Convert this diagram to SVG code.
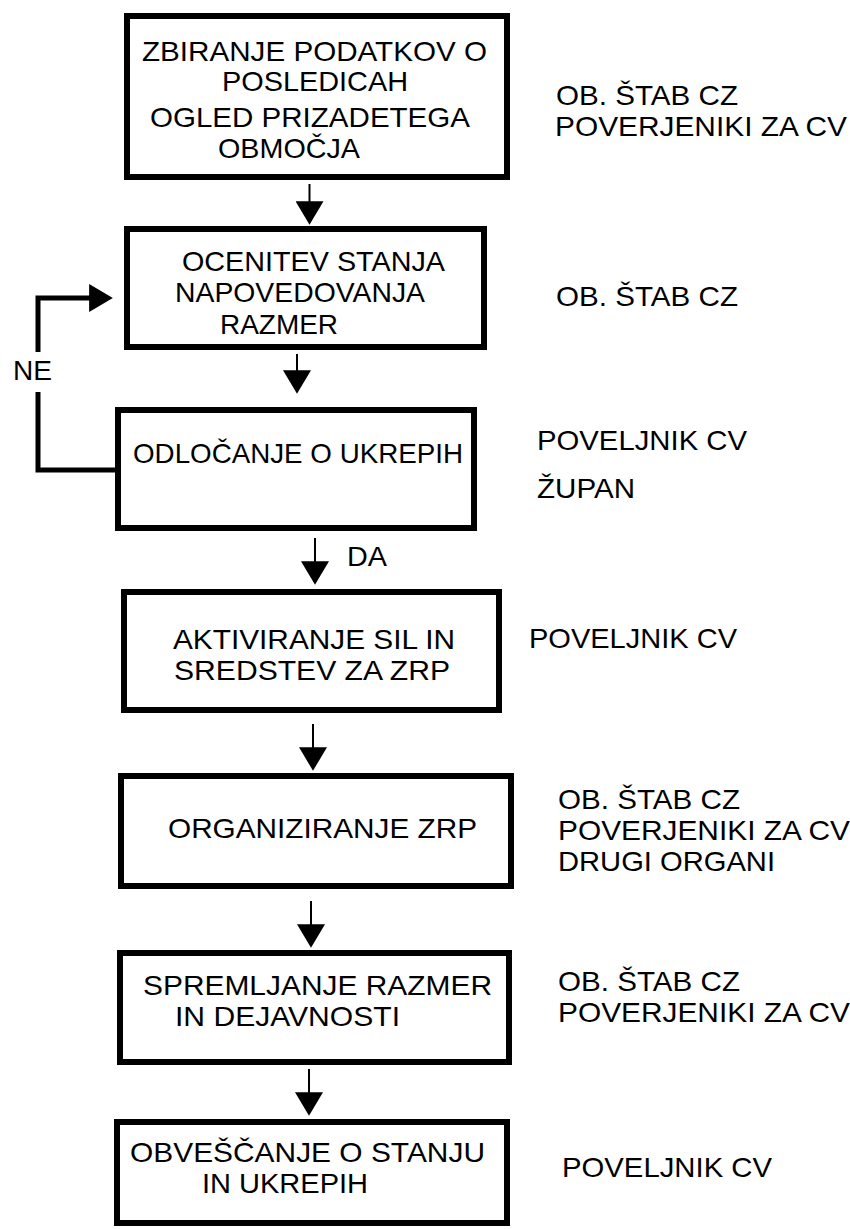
<svg xmlns="http://www.w3.org/2000/svg" width="850" height="1229" viewBox="0 0 850 1229">
<style>
.box{fill:#fff;stroke:#000;stroke-width:6}
.t{font-family:"Liberation Sans",Arial,sans-serif;font-size:28px;fill:#000}
.ln{fill:none;stroke:#000;stroke-width:2}
.lp{fill:none;stroke:#000;stroke-width:5}
</style>
<defs>
<marker id="ah" markerUnits="userSpaceOnUse" markerWidth="24" markerHeight="28" viewBox="0 0 22 26" refX="11" refY="13" orient="auto">
<path d="M0,0 L22,13 L0,26 z" fill="#000"/>
</marker>
</defs>
<rect width="850" height="1229" fill="#fff"/>
<g id="connectors">
<path class="ln" d="M309.5 184 V213" marker-end="url(#ah)"/>
<path class="ln" d="M297 354 V382" marker-end="url(#ah)"/>
<path class="lp" d="M118 470 H38 V392"/>
<path class="lp" d="M38 352 V298 H101" marker-end="url(#ah)"/>
<text class="t" x="13" y="380" textLength="39" lengthAdjust="spacingAndGlyphs">NE</text>
<path class="ln" d="M315 538 V573" marker-end="url(#ah)"/>
<text class="t" x="347" y="566" textLength="40" lengthAdjust="spacingAndGlyphs">DA</text>
<path class="ln" d="M313 724 V759" marker-end="url(#ah)"/>
<path class="ln" d="M311 901 V936" marker-end="url(#ah)"/>
<path class="ln" d="M309 1069 V1104" marker-end="url(#ah)"/>
</g>
<g id="n1">
<rect class="box" x="127" y="16" width="380" height="161"/>
<text class="t" x="142" y="61" textLength="345" lengthAdjust="spacingAndGlyphs">ZBIRANJE PODATKOV O</text>
<text class="t" x="222" y="91" textLength="186" lengthAdjust="spacingAndGlyphs">POSLEDICAH</text>
<text class="t" x="150" y="127" textLength="320" lengthAdjust="spacingAndGlyphs">OGLED PRIZADETEGA</text>
<text class="t" x="218" y="158" textLength="142" lengthAdjust="spacingAndGlyphs">OBMOČJA</text>
<text class="t" x="556" y="105" textLength="182" lengthAdjust="spacingAndGlyphs">OB. ŠTAB CZ</text>
<text class="t" x="555" y="136" textLength="292" lengthAdjust="spacingAndGlyphs">POVERJENIKI ZA CV</text>
</g>
<g id="n2">
<rect class="box" x="127" y="229" width="357" height="118"/>
<text class="t" x="182" y="271" textLength="263" lengthAdjust="spacingAndGlyphs">OCENITEV STANJA</text>
<text class="t" x="175" y="302" textLength="250" lengthAdjust="spacingAndGlyphs">NAPOVEDOVANJA</text>
<text class="t" x="220" y="334" textLength="118" lengthAdjust="spacingAndGlyphs">RAZMER</text>
<text class="t" x="556" y="306" textLength="182" lengthAdjust="spacingAndGlyphs">OB. ŠTAB CZ</text>
</g>
<g id="n3">
<rect class="box" x="118" y="410" width="356" height="118"/>
<text class="t" x="133" y="463" textLength="330" lengthAdjust="spacingAndGlyphs">ODLOČANJE O UKREPIH</text>
<text class="t" x="537" y="450" textLength="210" lengthAdjust="spacingAndGlyphs">POVELJNIK CV</text>
<text class="t" x="537" y="498" textLength="98" lengthAdjust="spacingAndGlyphs">ŽUPAN</text>
</g>
<g id="n4">
<rect class="box" x="124" y="592" width="375" height="118"/>
<text class="t" x="173" y="649" textLength="282" lengthAdjust="spacingAndGlyphs">AKTIVIRANJE SIL IN</text>
<text class="t" x="174" y="680" textLength="276" lengthAdjust="spacingAndGlyphs">SREDSTEV ZA ZRP</text>
<text class="t" x="529" y="648" textLength="208" lengthAdjust="spacingAndGlyphs">POVELJNIK CV</text>
</g>
<g id="n5">
<rect class="box" x="121" y="776" width="390" height="110"/>
<text class="t" x="168" y="838" textLength="309" lengthAdjust="spacingAndGlyphs">ORGANIZIRANJE ZRP</text>
<text class="t" x="558" y="809" textLength="182" lengthAdjust="spacingAndGlyphs">OB. ŠTAB CZ</text>
<text class="t" x="558" y="840" textLength="292" lengthAdjust="spacingAndGlyphs">POVERJENIKI ZA CV</text>
<text class="t" x="558" y="871" textLength="217" lengthAdjust="spacingAndGlyphs">DRUGI ORGANI</text>
</g>
<g id="n6">
<rect class="box" x="120" y="953" width="389" height="109"/>
<text class="t" x="143" y="995" textLength="349" lengthAdjust="spacingAndGlyphs">SPREMLJANJE RAZMER</text>
<text class="t" x="175" y="1026" textLength="225" lengthAdjust="spacingAndGlyphs">IN DEJAVNOSTI</text>
<text class="t" x="558" y="991" textLength="182" lengthAdjust="spacingAndGlyphs">OB. ŠTAB CZ</text>
<text class="t" x="558" y="1022" textLength="292" lengthAdjust="spacingAndGlyphs">POVERJENIKI ZA CV</text>
</g>
<g id="n7">
<rect class="box" x="117" y="1122" width="390" height="101"/>
<text class="t" x="130" y="1162" textLength="355" lengthAdjust="spacingAndGlyphs">OBVEŠČANJE O STANJU</text>
<text class="t" x="202" y="1193" textLength="166" lengthAdjust="spacingAndGlyphs">IN UKREPIH</text>
<text class="t" x="562" y="1177" textLength="210" lengthAdjust="spacingAndGlyphs">POVELJNIK CV</text>
</g>
</svg>
